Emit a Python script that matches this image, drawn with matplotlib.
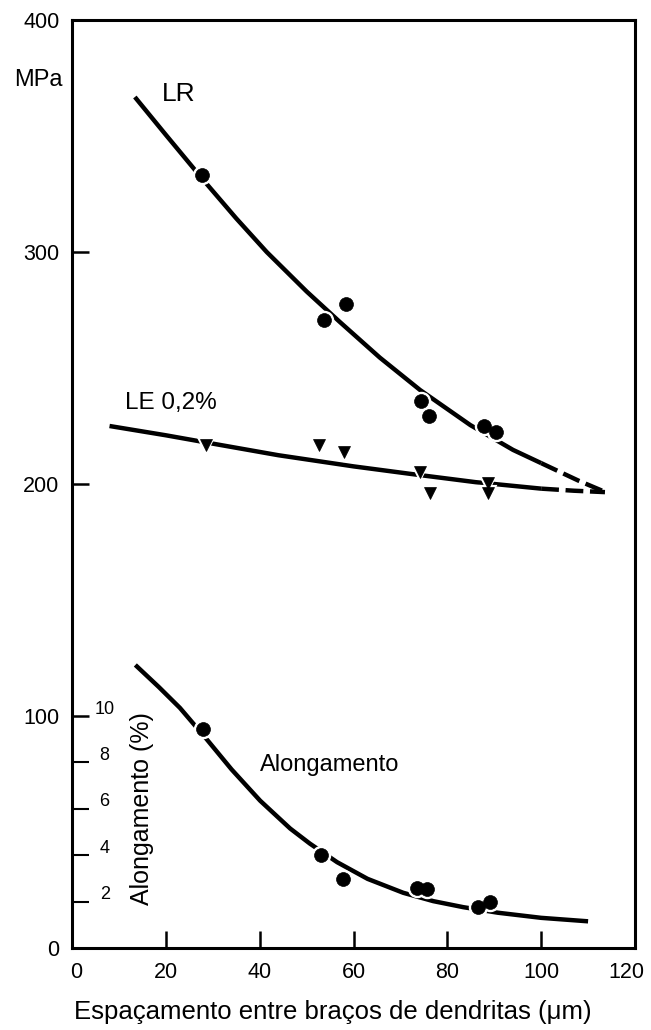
import matplotlib
matplotlib.use("Agg")
import matplotlib.pyplot as plt
import matplotlib.transforms as mtransforms

plt.rcParams['font.family'] = ['Liberation Sans', 'DejaVu Sans']

# ---- data ----
# Tensile strength LR (MPa)
lr_x = [27.7, 53.7, 58.4, 74.4, 76.1, 87.8, 90.4]
lr_y = [333, 270.7, 277.6, 235.8, 229.3, 225, 222.4]
lr_curve_x = [13.4, 20.0, 28.0, 35.0, 41.5, 50.0, 57.0, 65.6, 74.2, 84.9, 94.0, 100.0]
lr_curve_y = [366.8, 350.5, 331.0, 314.5, 300.0, 283.0, 270.0, 254.5, 240.5, 225.4, 214.7, 209.0]
lr_dash_x = [100.0, 104.0, 108.0, 113.6]
lr_dash_y = [209.0, 205.2, 201.4, 196.6]

# Yield strength LE 0,2% (MPa)
le_x = [28.5, 52.7, 58.0, 74.2, 76.3, 88.7, 88.7]
le_y = [217, 216.8, 214, 205, 196, 200.4, 196]
le_curve_x = [8.0, 20.0, 30.0, 44.0, 60.0, 72.0, 86.0, 100.0]
le_curve_y = [225.0, 221.0, 217.4, 212.4, 207.6, 204.4, 200.8, 198.0]
le_dash_x = [100.0, 107.0, 113.6]
le_dash_y = [198.0, 197.1, 196.5]

# Elongation (%), inner scale: 10 % = 100 MPa
el_x = [28.0, 53.1, 57.8, 73.6, 75.7, 86.6, 89.1]
el_y = [9.44, 4.0, 2.97, 2.59, 2.54, 1.77, 1.98]
el_curve_x = [13.5, 18.5, 23.0, 28.7, 34.0, 40.1, 46.5, 50.7, 56.5, 63.0, 70.6, 77.0, 83.4, 90.8, 100.0, 110.0]
el_curve_y = [12.2, 11.25, 10.35, 9.0, 7.7, 6.35, 5.15, 4.5, 3.7, 2.98, 2.38, 2.02, 1.76, 1.52, 1.3, 1.15]

x_ticks = [0, 20, 40, 60, 80, 100, 120]
y_ticks = [0, 100, 200, 300, 400]
el_ticks = [2, 4, 6, 8, 10]

MPA_PER_PCT = 10.0

fig = plt.figure(figsize=(6.51, 10.30), dpi=100)
ax = fig.add_axes([72/651, 1-948/1030, (635-72)/651, (948-20)/1030])
ax.set_xlim(0, 120)
ax.set_ylim(0, 400)

lw = 3.2
# curves
ax.plot(lr_curve_x, lr_curve_y, color='black', lw=lw, solid_capstyle='butt',
        solid_joinstyle='round', zorder=2)
ax.plot(lr_dash_x, lr_dash_y, color='black', lw=lw, dashes=(4, 1.5), zorder=2)
ax.plot(le_curve_x, le_curve_y, color='black', lw=lw, solid_capstyle='butt',
        solid_joinstyle='round', zorder=2)
ax.plot(le_dash_x, le_dash_y, color='black', lw=lw, dashes=(4, 1.5), zorder=2)
el_curve_mpa = [v * MPA_PER_PCT for v in el_curve_y]
ax.plot(el_curve_x, el_curve_mpa, color='black', lw=lw, solid_capstyle='butt',
        solid_joinstyle='round', zorder=2)

# white halos create the gaps in the curves around the markers
el_mpa = [v * MPA_PER_PCT for v in el_y]
ax.plot(lr_x, lr_y, 'o', ms=10, color='black', mec='white', mew=4, zorder=3)
ax.plot(el_x, el_mpa, 'o', ms=10, color='black', mec='white', mew=4, zorder=3)
ax.plot(le_x, le_y, 'v', ms=8, color='black', mec='white', mew=3, zorder=3)
ax.plot(lr_x, lr_y, 'o', ms=10, color='black', mec='black', mew=0.5, zorder=4)
ax.plot(el_x, el_mpa, 'o', ms=10, color='black', mec='black', mew=0.5, zorder=4)
ax.plot(le_x, le_y, 'v', ms=8, color='black', mec='black', mew=0.5, zorder=4)

# spines and ticks
for s in ax.spines.values():
    s.set_linewidth(2.2)
ax.set_xticks(x_ticks)
ax.set_yticks(y_ticks)
ax.set_yticks([v * MPA_PER_PCT for v in el_ticks[:-1]], minor=True)
ax.tick_params(axis='both', which='major', direction='in', length=12, width=1.8,
               labelsize=15.5, pad=9)
ax.tick_params(axis='y', which='minor', direction='in', length=12, width=1.5)
ax.tick_params(axis='x', which='major', pad=10)

# shift the last x tick label ("120") slightly left so it stays inside the figure
xlabels = ax.xaxis.get_majorticklabels()
xlabels[-1].set_transform(xlabels[-1].get_transform() +
                          mtransforms.ScaledTranslation(-9/100, 0, fig.dpi_scale_trans))
xlabels[0].set_transform(xlabels[0].get_transform() +
                         mtransforms.ScaledTranslation(4/100, 0, fig.dpi_scale_trans))

# inner elongation scale labels
trans = mtransforms.blended_transform_factory(ax.transAxes, ax.transData)
for t in el_ticks:
    ax.text(0.058, t * MPA_PER_PCT + 3, str(t), transform=trans,
            ha='center', va='center', fontsize=13)
ax.text(0.124, 60, 'Alongamento (%)', transform=trans, rotation=90,
        ha='center', va='center', fontsize=18)

# annotations
ax.text(-0.06, 374, 'MPa', transform=trans, ha='center', va='center', fontsize=17)
ax.text(22.8, 368, 'LR', ha='center', va='center', fontsize=19)
ax.text(11.3, 235, 'LE 0,2%', ha='left', va='center', fontsize=17.5)
ax.text(40.0, 79, 'Alongamento', ha='left', va='center', fontsize=17)

fig.text(333/651, 1-1012/1030, 'Espaçamento entre braços de dendritas (μm)',
         ha='center', va='center', fontsize=18.5)

fig.savefig('out.png', dpi=100)
